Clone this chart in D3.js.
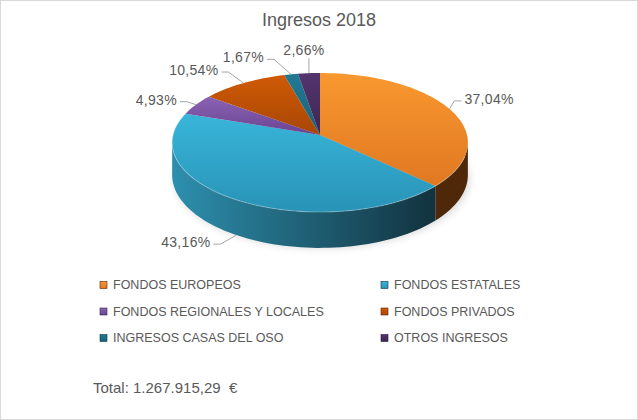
<!DOCTYPE html>
<html>
<head>
<meta charset="utf-8">
<script src="https://cdn.jsdelivr.net/npm/d3@7"></script>
<style>
  body { margin: 0; background: #fff; }
  text { font-family: "Liberation Sans", Arial, sans-serif; fill: #595959; }
</style>
</head>
<body>
<div id="wrapper"></div>
<script>
// data
const categories = [
  "FONDOS EUROPEOS",
  "FONDOS ESTATALES",
  "FONDOS REGIONALES Y LOCALES",
  "FONDOS PRIVADOS",
  "INGRESOS CASAS DEL OSO",
  "OTROS INGRESOS",
];
const values = [37.04, 43.16, 4.93, 10.54, 1.67, 2.66];
const valueLabels = ["37,04%", "43,16%", "4,93%", "10,54%", "1,67%", "2,66%"];
const title = "Ingresos 2018";
const totalText = "Total: 1.267.915,29  \u20AC";

// colours: top face light/dark, side light/dark
const topColors = [
  ["#f9982f", "#e07822"],
  ["#39b5da", "#2893b6"],
  ["#8a62b4", "#6a4592"],
  ["#cf5a06", "#a84604"],
  ["#227a94", "#1a6077"],
  ["#54356e", "#3e2553"],
];
const sideColors = [
  ["#6b380c", "#4e2808"],
  ["#2d8fae", "#12313d"],
  ["#5a3a7a", "#3a2450"],
  ["#7a3505", "#5a2703"],
  ["#165466", "#0f3b48"],
  ["#3a2550", "#2a1a3a"],
];

// label placement relative to slice anchor: [dx, dy, anchor]
const labelLayout = [
  [15, -10, "start"],
  [-26, 7, "end"],
  [-19, -5, "end"],
  [-25, -13, "end"],
  [-27, -17, "end"],
  [-5, -23, "middle"],
];

const width = 638;
const height = 420;
// apex of the pie, radii and a small perspective factor
const cx = 320, cy = 135, rx = 147, ry = 68.7, k = 0.108, depth = 32;

const svg = d3.select("#wrapper").append("svg")
  .attr("width", width).attr("height", height);

svg.append("rect")
  .attr("x", 0.5).attr("y", 0.5)
  .attr("width", width - 1).attr("height", height - 1)
  .attr("fill", "#fff").attr("stroke", "#d9d9d9");

const defs = svg.append("defs");

const pie = d3.pie().sort(null).value((d) => d)(values);

// projected point on the rim for angle a (clockwise from top)
const pt = (a, down = 0) => {
  const u = Math.sin(a), v = -Math.cos(a);
  const w = 1 - k * v;
  return [cx + (rx * u) / w, cy + (ry * v) / w + (depth / w) * down];
};
const rim = (a0, a1, down = 0) => {
  const n = Math.max(2, Math.ceil(((a1 - a0) / Math.PI) * 90));
  return d3.range(n + 1).map((j) => pt(a0 + ((a1 - a0) * j) / n, down));
};
const line = d3.line();

// gradients
topColors.forEach((c, i) => {
  const g = defs.append("linearGradient").attr("id", "top" + i)
    .attr("x1", 0).attr("y1", 0).attr("x2", 0).attr("y2", 1);
  g.append("stop").attr("offset", "0%").attr("stop-color", c[0]);
  g.append("stop").attr("offset", "100%").attr("stop-color", c[1]);
});
sideColors.forEach((c, i) => {
  const g = defs.append("linearGradient").attr("id", "side" + i)
    .attr("gradientUnits", "userSpaceOnUse")
    .attr("x1", cx - rx).attr("y1", 0).attr("x2", cx + rx * 0.8).attr("y2", 0);
  g.append("stop").attr("offset", "0%").attr("stop-color", c[0]);
  g.append("stop").attr("offset", "100%").attr("stop-color", c[1]);
});
const blur = defs.append("filter").attr("id", "shadow")
  .attr("x", "-20%").attr("y", "-20%").attr("width", "140%").attr("height", "140%");
blur.append("feGaussianBlur").attr("stdDeviation", 4);

// soft shadow
svg.append("ellipse")
  .attr("cx", cx + 2).attr("cy", cy + depth + 12)
  .attr("rx", rx).attr("ry", ry)
  .attr("fill", "#000").attr("opacity", 0.16)
  .attr("filter", "url(#shadow)");

// side walls (visible front part only)
const visStart = Math.PI / 2 + Math.asin(k);
const visEnd = Math.PI * 1.5 - Math.asin(k);
const sides = svg.append("g");
pie.forEach((d, i) => {
  const s = Math.max(d.startAngle, visStart);
  const e = Math.min(d.endAngle, visEnd);
  if (e <= s) return;
  const pts = rim(s, e, 0).concat(rim(s, e, 1).reverse());
  sides.append("path")
    .attr("d", line(pts) + "Z")
    .attr("fill", `url(#side${i})`);
});

// top faces
const tops = svg.append("g");
pie.forEach((d, i) => {
  const pts = [[cx, cy]].concat(rim(d.startAngle, d.endAngle));
  tops.append("path")
    .attr("d", line(pts) + "Z")
    .attr("fill", `url(#top${i})`);
});
// rim highlight
tops.append("path")
  .attr("d", line(rim(Math.PI * 0.6, Math.PI * 1.62)))
  .attr("fill", "none").attr("stroke", "#fff").attr("stroke-opacity", 0.25)
  .attr("stroke-width", 1.2);

// data labels with leader lines
const labels = svg.append("g").style("font-size", "14px");
pie.forEach((d, i) => {
  const mid = (d.startAngle + d.endAngle) / 2;
  const front = -Math.cos(mid) > k;
  const a = pt(mid, front ? 1 : 0);
  const [dx, dy, anchor] = labelLayout[i];
  const tx = a[0] + dx, ty = a[1] + dy;
  let pathD;
  if (anchor === "middle") {
    pathD = `M${a}L${a[0]},${ty + 8}`;
  } else {
    const sgn = anchor === "start" ? -1 : 1;
    pathD = `M${a}L${tx + sgn * 10},${ty + 2}L${tx + sgn * 3},${ty + 2}`;
  }
  labels.append("path").attr("d", pathD)
    .attr("fill", "none").attr("stroke", "#a6a6a6").attr("stroke-width", 1);
  labels.append("text")
    .attr("x", tx)
    .attr("y", ty)
    .attr("dy", "0.35em")
    .attr("text-anchor", anchor)
    .style("letter-spacing", "0.3px")
    .text(valueLabels[i]);
});

// title
svg.append("text")
  .attr("x", 319).attr("y", 20).attr("dy", "0.35em")
  .attr("text-anchor", "middle")
  .style("font-size", "18px")
  .text(title);

// legend
const colX = d3.scalePoint().domain([0, 1]).range([100, 381]);
const rowY = d3.scalePoint().domain([0, 1, 2]).range([285, 338]);
const legend = svg.append("g").style("font-size", "12.5px");
categories.forEach((c, i) => {
  const x = colX(i % 2), y = rowY(Math.floor(i / 2));
  legend.append("rect")
    .attr("x", x).attr("y", y - 3.5)
    .attr("width", 7).attr("height", 7)
    .attr("fill", `url(#top${i})`)
    .attr("stroke", sideColors[i][1]).attr("stroke-width", 0.6);
  legend.append("text")
    .attr("x", x + 13).attr("y", y).attr("dy", "0.35em")
    .text(c);
});

// total
svg.append("text")
  .attr("x", 93).attr("y", 388).attr("dy", "0.35em")
  .style("font-size", "15px")
  .style("white-space", "pre")
  .text(totalText);
</script>
</body>
</html>
